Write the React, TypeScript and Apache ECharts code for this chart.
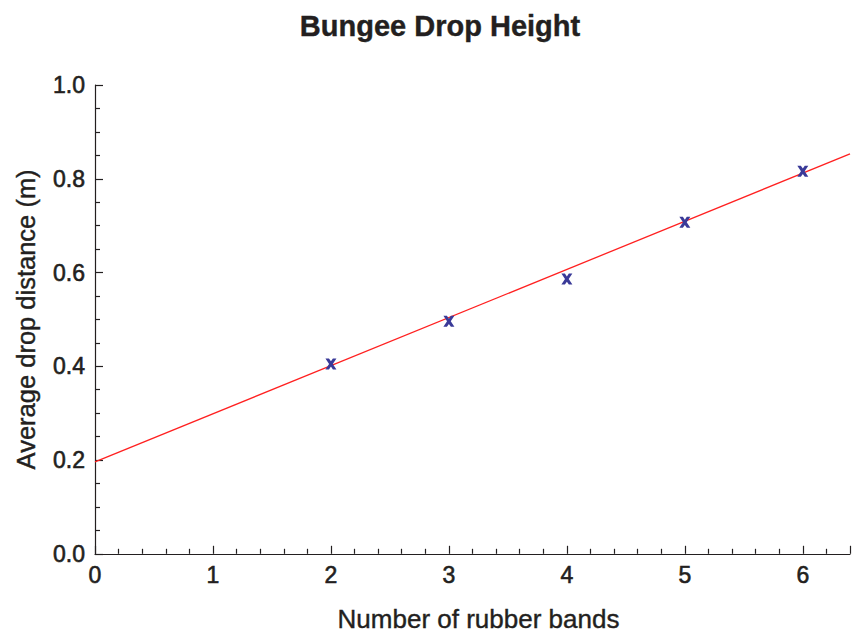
import React, { useEffect, useRef } from "react";
import * as echarts from "echarts";

const bandCounts = [2, 3, 4, 5, 6];
const dropHeights = [0.405, 0.496, 0.586, 0.707, 0.816];
const fitX = [0, 6.4];
const fitY = [0.196, 0.853];

const TEXT = "#231f20";
const FONT = "'Liberation Sans', Arial, sans-serif";
const X_MARK =
  "path://M0,0L3.2,0L5,2.6L6.8,0L10,0L6.7,5L10,10L6.8,10L5,7.4L3.2,10L0,10L3.3,5Z";

export default function App() {
  const ref = useRef<HTMLDivElement>(null);
  useEffect(() => {
    if (!ref.current) return;
    const chart = echarts.init(ref.current, null, { renderer: "svg" });
    const heavy = { textBorderColor: TEXT, textBorderWidth: 0.6 };
    chart.setOption({
      animation: false,
      backgroundColor: "#ffffff",
      title: {
        text: "Bungee Drop Height",
        left: 435,
        top: 6,
        textAlign: "center",
        textStyle: {
          fontFamily: FONT,
          fontSize: 29,
          fontWeight: "bold",
          color: TEXT,
          textBorderColor: TEXT,
          textBorderWidth: 0.4,
        },
      },
      grid: { left: 95, top: 85, width: 755, height: 475, containLabel: false },
      xAxis: {
        type: "value",
        min: 0,
        max: 6.4,
        interval: 1,
        name: "Number of rubber bands",
        nameLocation: "middle",
        nameGap: 52,
        nameTextStyle: {
          fontFamily: FONT,
          fontSize: 26,
          color: TEXT,
          textBorderColor: TEXT,
          textBorderWidth: 0.4,
          padding: [0, 0, 0, 12],
        },
        axisLine: { show: true, lineStyle: { color: TEXT, width: 1.2 } },
        axisTick: { show: true, inside: true, length: 8, lineStyle: { color: TEXT, width: 1.2 } },
        minorTick: { show: true, splitNumber: 5, length: 5, lineStyle: { color: TEXT, width: 1.2 } },
        splitLine: { show: false },
        axisLabel: {
          margin: 10,
          fontFamily: FONT,
          fontSize: 23,
          color: TEXT,
          ...heavy,
          showMaxLabel: false,
        },
      },
      yAxis: {
        type: "value",
        min: 0,
        max: 1,
        interval: 0.2,
        name: "Average drop distance (m)",
        nameLocation: "middle",
        nameGap: 56,
        nameTextStyle: {
          fontFamily: FONT,
          fontSize: 25.5,
          color: TEXT,
          textBorderColor: TEXT,
          textBorderWidth: 0.4,
        },
        axisLine: { show: true, lineStyle: { color: TEXT, width: 1.2 } },
        axisTick: { show: true, inside: true, length: 8, lineStyle: { color: TEXT, width: 1.2 } },
        minorTick: { show: true, splitNumber: 4, length: 5, lineStyle: { color: TEXT, width: 1.2 } },
        splitLine: { show: false },
        axisLabel: {
          margin: 10,
          fontFamily: FONT,
          fontSize: 23,
          color: TEXT,
          ...heavy,
          formatter: (v: number) => v.toFixed(1),
        },
      },
      series: [
        {
          type: "line",
          data: fitX.map((x, i) => [x, fitY[i]]),
          showSymbol: false,
          symbol: "none",
          lineStyle: { color: "#ff2020", width: 1.3 },
          z: 2,
        },
        {
          type: "scatter",
          data: bandCounts.map((x, i) => [x, dropHeights[i]]),
          symbol: X_MARK,
          symbolSize: [11, 11],
          itemStyle: { color: "#3a3a98", opacity: 1 },
          z: 3,
        },
      ],
    });
    return () => chart.dispose();
  }, []);
  return (
    <div
      ref={ref}
      style={{ position: "fixed", left: 0, top: 0, width: 852, height: 637 }}
    />
  );
}
